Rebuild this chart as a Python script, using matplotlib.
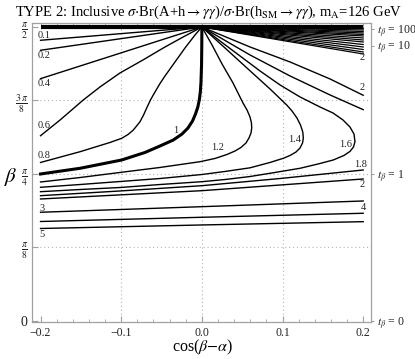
import numpy as np
import matplotlib
matplotlib.use("Agg")
import matplotlib.pyplot as plt

plt.rcParams['font.family'] = ['Liberation Serif', 'DejaVu Serif']
plt.rcParams['mathtext.fontset'] = 'stix'

# contour lines: cos(beta-alpha) and beta in units of pi
c01_x = [-0.2, 0.0]
c01_b = [0.4774, 0.5]
c02_x = [-0.2, 0.0]
c02_b = [0.4604, 0.5]
c04_x = [-0.2, 0.0]
c04_b = [0.4121, 0.5]
c06_x = [-0.2, -0.1758, -0.1470, -0.1263, -0.1015, -0.0730, -0.0457, -0.0209, 0.0]
c06_b = [0.3151, 0.3418, 0.3759, 0.3980, 0.4218, 0.4439, 0.4660, 0.4847, 0.5]
c08_x = [-0.2, -0.1510, -0.1139, -0.0994, -0.0915, -0.0850, -0.0804, -0.0767,
         -0.0723, -0.0684, -0.0637, -0.0581, -0.0519, -0.0457, -0.0333, -0.0209,
         -0.0085, 0.0]
c08_b = [0.2696, 0.2879, 0.3036, 0.3107, 0.3172, 0.3248, 0.3325, 0.3389,
         0.3503, 0.3622, 0.3759, 0.3895, 0.4039, 0.4167, 0.4405, 0.4643,
         0.4864, 0.5]
c1_x = [-0.2, -0.1510, -0.0994, -0.0705, -0.0519, -0.0354, -0.0246, -0.0172,
        -0.0116, -0.0079, -0.0050, -0.0032, -0.0019, -0.0011, -0.0004, -0.0001, 0.0]
c1_b = [0.25, 0.2597, 0.2738, 0.2866, 0.2976, 0.3078, 0.3180, 0.3282,
        0.3401, 0.3520, 0.3639, 0.3759, 0.3895, 0.4065, 0.4354, 0.4694, 0.5]
c12_x = [0.0, 0.0126, 0.0250, 0.0386, 0.0510, 0.0560, 0.0597, 0.0615, 0.0618,
         0.0609, 0.0584, 0.0547, 0.0485, 0.0411, 0.0312, 0.0163, -0.0023,
         -0.0519, -0.1015, -0.1510, -0.2]
c12_b = [0.5, 0.4694, 0.4371, 0.4048, 0.3707, 0.3588, 0.3469, 0.3367, 0.3282,
         0.3197, 0.3112, 0.3027, 0.2951, 0.2891, 0.2832, 0.2764, 0.2709,
         0.2611, 0.2526, 0.2440, 0.2364]
c14_x = [0.0, 0.0287, 0.0572, 0.0845, 0.1052, 0.1118, 0.1179, 0.1223, 0.1251,
         0.1258, 0.1248, 0.1217, 0.1167, 0.1093, 0.1010, 0.0845, 0.0597, 0.0287,
         0.0, -0.0519, -0.1015, -0.1510, -0.2]
c14_b = [0.5, 0.4643, 0.4286, 0.3946, 0.3673, 0.3571, 0.3452, 0.3333, 0.3214,
         0.3112, 0.3027, 0.2942, 0.2874, 0.2815, 0.2767, 0.2696, 0.2605, 0.2543,
         0.2491, 0.2423, 0.2372, 0.2321, 0.2274]
c16_x = [0.0, 0.0225, 0.0473, 0.0721, 0.0969, 0.1217, 0.1465, 0.1626, 0.1750,
         0.1836, 0.1886, 0.1898, 0.1880, 0.1836, 0.1762, 0.1629, 0.1440, 0.1217,
         0.0907, 0.0597, 0.0287, 0.0, -0.0519, -0.1015, -0.1510, -0.2]
c16_b = [0.5, 0.4762, 0.4507, 0.4252, 0.4014, 0.3810, 0.3639, 0.3537, 0.3418,
         0.3299, 0.3180, 0.3049, 0.2959, 0.2883, 0.2815, 0.2738, 0.2670, 0.2597,
         0.2526, 0.2457, 0.2406, 0.2369, 0.2321, 0.2270, 0.2236, 0.2199]
c18lo_x = [-0.2, -0.1015, 0.0, 0.0969, 0.2]
c18lo_b = [0.2131, 0.2211, 0.2301, 0.2423, 0.2568]
c18up_x = [0.0, 0.0597, 0.1093, 0.1589, 0.2]
c18up_b = [0.5, 0.4524, 0.4167, 0.3844, 0.3594]
c2lo_x = [-0.2, 0.0, 0.2]
c2lo_b = [0.2075, 0.2216, 0.2415]
c2up_x = [0.0, 0.0597, 0.1093, 0.1589, 0.2]
c2up_b = [0.5, 0.4660, 0.4405, 0.4116, 0.3839]
c3_x = [-0.2, 0.0, 0.2]
c3_b = [0.1849, 0.1944, 0.2041]
c4_x = [-0.2, 0.0, 0.2]
c4_b = [0.1692, 0.1764, 0.1832]
c5_x = [-0.2, 0.0, 0.2]
c5_b = [0.1573, 0.1633, 0.1689]

# dense fan in the upper right: beta/pi where each line meets cos(beta-alpha)=0.2
band_end_b = [0.4974, 0.4949, 0.4923, 0.4898, 0.4872, 0.4847, 0.4813, 0.4779,
              0.4745, 0.4702, 0.4660, 0.4617, 0.4575, 0.4541]

thin_lines = [(c01_x, c01_b), (c02_x, c02_b), (c04_x, c04_b), (c06_x, c06_b),
              (c08_x, c08_b), (c12_x, c12_b), (c14_x, c14_b), (c16_x, c16_b),
              (c18lo_x, c18lo_b), (c18up_x, c18up_b), (c2lo_x, c2lo_b),
              (c2up_x, c2up_b), (c3_x, c3_b), (c4_x, c4_b), (c5_x, c5_b)]

# contour labels: text, cos(beta-alpha), beta/pi
labels = [("0.1", -0.1956, 0.4855), ("0.2", -0.1956, 0.4512), ("0.4", -0.1956, 0.4043),
          ("0.6", -0.1956, 0.3333), ("0.8", -0.1956, 0.2806), ("1", -0.0320, 0.3248),
          ("1.2", 0.0192, 0.2947), ("1.4", 0.1146, 0.3090), ("1.6", 0.1787, 0.3005),
          ("1.8", 0.1973, 0.2665), ("2", 0.1991, 0.2313), ("3", -0.1985, 0.1917),
          ("4", 0.1998, 0.1927), ("5", -0.1985, 0.1463), ("2", 0.1985, 0.3971),
          ("2", 0.1985, 0.4481)]

tb_values = [0, 1, 10, 100]

fig = plt.figure(figsize=(4.15, 3.59), dpi=100)
ax = fig.add_axes([0.0771, 0.1017, 0.8169, 0.8343])

gray = '#a0a0a0'
for g in [-0.1, 0.0, 0.1]:
    ax.axvline(g, color='#b4b4b4', lw=0.8, ls=(0, (1, 2.5)), zorder=0)
for g in [np.pi / 8, np.pi / 4, 3 * np.pi / 8]:
    ax.axhline(g, color='#b4b4b4', lw=0.8, ls=(0, (1, 2.5)), zorder=0)

for x, b in thin_lines:
    ax.plot(x, np.pi * np.array(b), color='black', lw=1.0)
for b in band_end_b:
    ax.plot([0.0, 0.2], [np.pi / 2, np.pi * b], color='black', lw=0.9)
ax.plot(c1_x, np.pi * np.array(c1_b), color='black', lw=2.2)
ax.plot([-0.2, 0.2], [np.pi / 2, np.pi / 2], color='black', lw=3.0, solid_capstyle='butt')

for t, x, b in labels:
    ax.text(x, np.pi * b, t, fontsize=7.5, ha='center', va='center', color='#222222')

ax.set_xlim(-0.2106, 0.2097)
ax.set_ylim(-0.008, 1.5922)

ax.set_xticks([-0.2, -0.1, 0.0, 0.1, 0.2])
ax.set_xticklabels(['\u22120.2', '\u22120.1', '0.0', '0.1', '0.2'])
ax.set_xticks(np.arange(-0.2, 0.201, 0.02), minor=True)
ax.set_yticks([0, np.pi / 8, np.pi / 4, 3 * np.pi / 8, np.pi / 2])
ax.set_yticklabels(['0', r'$\frac{\pi}{8}$', r'$\frac{\pi}{4}$', r'$\frac{3\,\pi}{8}$',
                    r'$\frac{\pi}{2}$'])
ax.tick_params(which='both', direction='in', top=True, right=False, color=gray,
               labelsize=8.5, labelcolor='#222222', pad=3)
ax.tick_params(which='major', length=4, width=0.8)
ax.tick_params(which='minor', length=2, width=0.6)
ax.tick_params(axis='y', labelsize=10)
for s in ax.spines.values():
    s.set_color(gray)
    s.set_linewidth(0.9)

ax2 = ax.twinx()
ax2.set_ylim(ax.get_ylim())
ax2.set_yticks(np.arctan(tb_values))
ax2.set_yticklabels([r'$t_\beta$ = %d' % t for t in tb_values])
ax2.tick_params(direction='out', length=2.5, color=gray, labelsize=8.5, labelcolor='#222222', pad=1.5)
for s in ax2.spines.values():
    s.set_visible(False)

fig.text(0.487, 0.031, r'cos($\beta{-}\alpha$)', fontsize=11.5, ha='center', va='center')
fig.text(0.026, 0.507, r'$\beta$', fontsize=15, ha='center', va='center')
fig.text(0.503, 0.966,
         r'TYPE 2: Inclusive $\sigma$$\cdot$Br(A+h$\rightarrow$$\gamma\gamma$)/'
         r'$\sigma$$\cdot$Br(h$_{\rm SM}$$\rightarrow$$\gamma\gamma$), m$_{\rm A}$=126 GeV',
         ha='center', va='center', fontsize=10.5)

fig.savefig('out.png', dpi=100)
